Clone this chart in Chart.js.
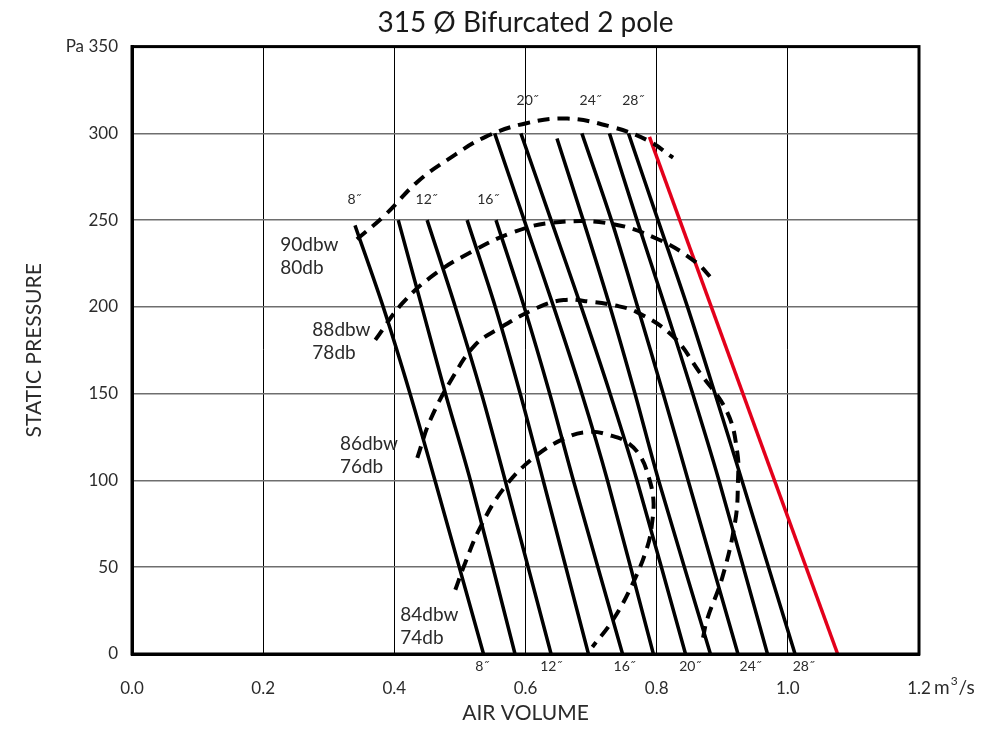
<!DOCTYPE html>
<html>
<head>
<meta charset="utf-8">
<title>315 Ø Bifurcated 2 pole</title>
<script src="https://cdn.jsdelivr.net/npm/chart.js@4.4.1/dist/chart.umd.min.js"></script>
<style>
  html, body { margin: 0; padding: 0; background: #fff; }
  #wrap { width: 1004px; height: 729px; }
</style>
</head>
<body>
<div id="wrap"><canvas id="chart" width="1004" height="729"></canvas></div>
<script>
// Fan curves (air volume m³/s, static pressure Pa)
const fanCurves = [
  [[0.340, 247], [0.383, 200], [0.424, 150], [0.462, 100], [0.536, 0]],
  [[0.406, 250], [0.442, 200], [0.478, 150], [0.516, 100], [0.584, 0]],
  [[0.450, 250], [0.493, 200], [0.533, 150], [0.569, 100], [0.639, 0]],
  [[0.511, 250], [0.554, 200], [0.592, 150], [0.627, 100], [0.696, 0]],
  [[0.555, 250], [0.598, 200], [0.637, 150], [0.673, 100], [0.748, 0]],
  [[0.553, 300], [0.598, 250], [0.643, 200], [0.686, 150], [0.725, 100], [0.795, 0]],
  [[0.593, 300], [0.639, 250], [0.685, 200], [0.729, 150], [0.770, 100], [0.844, 0]],
  [[0.648, 297], [0.688, 250], [0.729, 200], [0.767, 150], [0.803, 100], [0.882, 0]],
  [[0.686, 300], [0.731, 250], [0.771, 200], [0.810, 150], [0.848, 100], [0.924, 0]],
  [[0.728, 300], [0.770, 250], [0.813, 200], [0.855, 150], [0.895, 100], [0.969, 0]],
  [[0.757, 300], [0.802, 250], [0.847, 200], [0.889, 150], [0.930, 100], [1.011, 0]],
];
// red system line
const limitLine = [[0.789, 298], [1.076, 0]];

// sound level contours
const sound90 = [[0.343, 239], [0.386, 253], [0.435, 272], [0.482, 285], [0.539, 298], [0.603, 306],
  [0.664, 308.5], [0.729, 304], [0.786, 296], [0.825, 286]];
const sound88 = [[0.371, 181], [0.412, 202], [0.462, 219], [0.519, 232], [0.581, 243], [0.642, 248.6],
  [0.729, 248], [0.802, 239], [0.859, 226], [0.885, 216]];
const sound86 = [[0.435, 113], [0.455, 135], [0.490, 160], [0.523, 178], [0.557, 187], [0.618, 199.5],
  [0.658, 204], [0.699, 203], [0.734, 201], [0.770, 197], [0.825, 183], [0.866, 162], [0.908, 139],
  [0.923, 116], [0.924, 100], [0.920, 77], [0.900, 44], [0.877, 20], [0.870, 8]];
const sound84 = [[0.493, 37], [0.508, 52.5], [0.531, 73], [0.566, 95], [0.612, 113], [0.664, 125],
  [0.699, 128], [0.729, 126], [0.755, 122], [0.775, 114], [0.787, 103], [0.795, 89], [0.793, 75.5],
  [0.786, 62], [0.764, 41], [0.734, 20], [0.702, 4]];

const soundLabels = [["90dbw", "80db"], ["88dbw", "78db"], ["86dbw", "76db"], ["84dbw", "74db"]];
const soundLabelAt = [[0.226, 236], [0.275, 187], [0.317, 121], [0.409, 22.5]];

const sizeTop = ["8˝", "12˝", "16˝", "20˝", "24˝", "28˝"];
const sizeTopAt = [[0.339, 262], [0.449, 262], [0.543, 262], [0.603, 319], [0.699, 319], [0.764, 319]];
const sizeBottom = ["8˝", "12˝", "16˝", "20˝", "24˝", "28˝"];
const sizeBottomVol = [0.534, 0.639, 0.751, 0.851, 0.943, 1.024];

const xTickLabels = ["0.0", "0.2", "0.4", "0.6", "0.8", "1.0", "1.2"];
const yTickLabels = ["0", "50", "100", "150", "200", "250", "300", "Pa 350"];

const FONT = "Lato, 'Open Sans', sans-serif";
const TXT = "#2b2b2b";
const pts = (arr) => arr.map(([x, y]) => ({ x, y }));

const datasets = [];
[sound90, sound88, sound86, sound84].forEach((s) => datasets.push({
  data: pts(s), borderColor: "#000", borderWidth: 4, borderDash: [12, 8], tension: 0.4,
}));
fanCurves.forEach((f) => datasets.push({ data: pts(f), borderColor: "#000", borderWidth: 3.5, tension: 0.3 }));
datasets.push({ data: pts(limitLine), borderColor: "#e3001b", borderWidth: 3.5, tension: 0 });

// extra texts + top/right frame
const decor = {
  id: "decor",
  afterDatasetsDraw(chart) {
    const { ctx, chartArea: a, scales: { x, y } } = chart;
    ctx.save();
    ctx.strokeStyle = "#000"; ctx.lineWidth = 3;
    ctx.strokeRect(a.left, a.top, a.right - a.left, a.bottom - a.top);
    ctx.fillStyle = TXT;
    ctx.font = `19px ${FONT}`;
    ctx.textAlign = "left"; ctx.textBaseline = "middle";
    soundLabels.forEach((l, i) => {
      const px = x.getPixelForValue(soundLabelAt[i][0]), py = y.getPixelForValue(soundLabelAt[i][1]);
      ctx.fillText(l[0], px, py);
      ctx.fillText(l[1], px, py + 23);
    });
    ctx.font = `14px ${FONT}`;
    ctx.textAlign = "center";
    sizeTop.forEach((t, i) => ctx.fillText(t, x.getPixelForValue(sizeTopAt[i][0]), y.getPixelForValue(sizeTopAt[i][1])));
    sizeBottom.forEach((t, i) => ctx.fillText(t, x.getPixelForValue(sizeBottomVol[i]), a.bottom + 12));
    // unit after the last x tick
    ctx.textAlign = "left";
    let ux = x.getPixelForValue(1.2) + 15;
    const uy = a.bottom + 34;
    ctx.font = `19px ${FONT}`;
    ctx.fillText("m", ux, uy); ux += ctx.measureText("m").width + 1;
    ctx.font = `12px ${FONT}`;
    ctx.fillText("3", ux, uy - 7); ux += ctx.measureText("3").width + 1;
    ctx.font = `19px ${FONT}`;
    ctx.fillText("/s", ux, uy);
    ctx.restore();
  },
};

new Chart(document.getElementById("chart"), {
  type: "scatter",
  data: { datasets: datasets.map((d) => ({ ...d, showLine: true, pointRadius: 0, pointHoverRadius: 0, fill: false })) },
  options: {
    responsive: false, animation: false, devicePixelRatio: 1,
    layout: { padding: { left: 0, right: 85, top: 0, bottom: 0 } },
    plugins: {
      legend: { display: false }, tooltip: { enabled: false },
      title: { display: true, fullSize: false, text: "315 Ø Bifurcated 2 pole", color: "#1a1a1a", font: { family: FONT, size: 28, weight: "normal" }, padding: { top: 6, bottom: 7 } },
    },
    scales: {
      x: {
        type: "linear", min: 0, max: 1.2,
        afterFit: (s) => { s.height = 75; },
        ticks: { stepSize: 0.2, color: TXT, font: { family: FONT, size: 17 }, padding: 24, callback: (v, i) => xTickLabels[i] },
        grid: { color: "#000", lineWidth: 1, drawTicks: false },
        border: { color: "#000", width: 3 },
        title: { display: true, text: "AIR VOLUME", color: TXT, font: { family: FONT, size: 21 }, padding: { top: 0, bottom: 3 } },
      },
      y: {
        type: "linear", min: 0, max: 350,
        afterFit: (s) => { s.width = 132; },
        ticks: { stepSize: 50, color: TXT, font: { family: FONT, size: 17 }, padding: 14, callback: (v, i) => yTickLabels[i] },
        grid: { color: "#6e6e6e", lineWidth: 1.5, drawTicks: false },
        border: { color: "#000", width: 3 },
        title: { display: true, text: "STATIC PRESSURE", color: TXT, font: { family: FONT, size: 21 }, padding: { top: 22, bottom: 0 } },
      },
    },
  },
  plugins: [decor],
});
</script>
</body>
</html>
